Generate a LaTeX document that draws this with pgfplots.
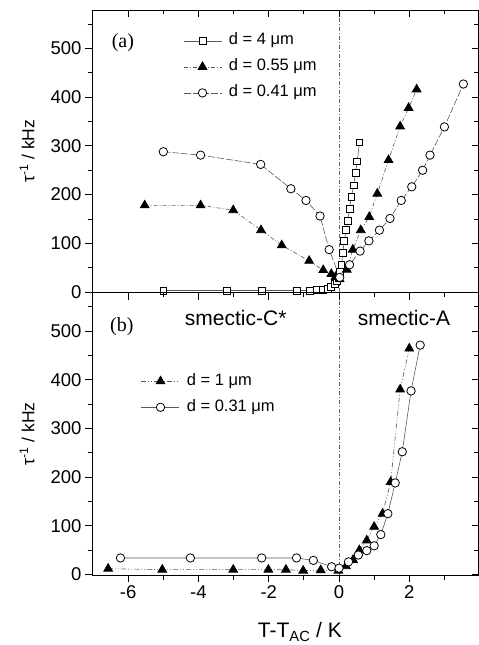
\documentclass[border=0pt]{standalone}
\usepackage{fontspec}
\setmainfont{Liberation Sans}
\newfontfamily\panelfont{Liberation Serif}
\usepackage{pgfplots}
\pgfplotsset{compat=1.18}

\pgfplotsset{
  panel/.style={
    scale only axis, width=386.5pt, height=282.5pt,
    xmin=-7.03, xmax=3.97, ymin=-1, ymax=579, clip=false,
    xtick={-6,-4,...,4}, minor xtick={-5,-3,-1,1,3},
    ytick={0,100,...,500}, minor ytick={50,150,...,550},
    major tick length=7pt, minor tick length=4.5pt,
    axis line style={line width=0.9pt},
    every tick/.style={black, line width=0.8pt},
    tick label style={font=\fontsize{18.5}{18.5}\selectfont},
    /pgf/number format/assume math mode=true,
  },
  outerticks/.style={panel, tick align=outside, xtick pos=left, ytick pos=left},
  innerticks/.style={panel, tick align=inside, xtick pos=right, ytick pos=right,
    xticklabels={}, yticklabels={}, axis line style={draw=none}},
  ser/.style={black!65, line width=0.6pt,
    mark options={solid, draw=black, line width=0.8pt}},
  sq/.style={ser, mark=square*, mark size=3.4pt, every mark/.append style={fill=white}},
  tri/.style={ser, mark=triangle*, mark size=5pt, every mark/.append style={fill=black}},
  circ/.style={ser, mark=*, mark size=4.2pt, every mark/.append style={fill=white}},
  legend image code/.code={
    \draw[mark repeat=2, mark phase=2, #1] plot coordinates {(0pt,0pt) (19pt,0pt) (38pt,0pt)};},
  leg/.style={legend cell align=left,
    legend style={draw=none, fill=none, font=\fontsize{16.5}{16.5}\selectfont,
      row sep=11pt, nodes={inner sep=0pt, text height=11.5pt, text depth=3.5pt},
      /tikz/every odd column/.style={column sep=7pt}}},
}
\tikzset{vline/.style={black!60, line width=0.5pt, dash pattern=on 4pt off 2pt on 1pt off 2pt}}

\begin{document}
\begin{tikzpicture}
\useasboundingbox (0pt,0pt) rectangle (479pt,645pt);

% ---------- (a) ----------
\begin{axis}[outerticks, at={(92pt,352.5pt)}, anchor=south west, xticklabels={},
  ylabel={τ\textsuperscript{-1} / kHz},
  ylabel style={at={(axis description cs:-0.168,0.5)}, anchor=center, font=\fontsize{17.5}{17.5}\selectfont},
  leg, legend style={at={(axis description cs:0.2277,0.925)}, anchor=north west}]
\draw[vline] (axis cs:0,-1) -- (axis cs:0,579);
\addplot[sq] coordinates {
 (-5,3) (-3.2,3) (-2.2,3) (-1.2,3) (-0.82,3) (-0.62,4) (-0.46,5) (-0.32,7) (-0.22,10)
 (-0.12,16) (-0.06,23) (-0.02,31) (0.02,41) (0.07,56) (0.11,81) (0.15,105) (0.2,127)
 (0.25,146) (0.3,171) (0.35,195) (0.42,219) (0.47,245) (0.52,268) (0.58,307)};
\addlegendentry{d = 4 μm}
\addplot[tri, dash pattern=on 4pt off 2pt on 1pt off 2pt] coordinates {
 (-5.53,178) (-3.94,178) (-3.01,168) (-2.22,127) (-1.63,96) (-0.85,64) (-0.45,45)
 (-0.22,37) (-0.1,31) (0.02,26) (0.22,46) (0.39,87) (0.62,127) (0.86,154) (1.09,202)
 (1.41,271) (1.74,340) (1.98,378) (2.21,416)};
\addlegendentry{d = 0.55 μm}
\addplot[circ, dash pattern=on 7pt off 2pt] coordinates {
 (-5,288) (-3.94,281) (-2.23,262) (-1.37,212) (-0.94,188) (-0.54,156) (-0.28,87)
 (0.02,30) (0.3,56) (0.6,84) (0.85,105) (1.15,127) (1.45,151) (1.77,188) (2.07,216)
 (2.38,250) (2.59,281) (3.0,339) (3.54,427)};
\addlegendentry{d = 0.41 μm}
\node[font=\panelfont\fontsize{20}{20}\selectfont] at (axis cs:-6.15,511) {(a)};
\end{axis}
\begin{axis}[innerticks, at={(92pt,352.5pt)}, anchor=south west]
\end{axis}

% ---------- (b) ----------
\begin{axis}[outerticks, at={(92pt,70pt)}, anchor=south west,
  xlabel={T-T\textsubscript{AC} / K},
  xlabel style={at={(axis description cs:0.538,-0.223)}, anchor=base, font=\fontsize{21}{21}\selectfont},
  ylabel={τ\textsuperscript{-1} / kHz},
  ylabel style={at={(axis description cs:-0.168,0.5)}, anchor=center, font=\fontsize{17.5}{17.5}\selectfont},
  leg, legend style={at={(axis description cs:0.119,0.72)}, anchor=north west}]
\draw[vline] (axis cs:0,-1) -- (axis cs:0,579);
\addplot[tri, dash pattern=on 5pt off 2pt on 1pt off 2pt on 1pt off 2pt] coordinates {
 (-6.57,12) (-5.03,10) (-3.01,10) (-2.01,10) (-1.51,10) (-1.02,8) (-0.52,9) (-0.02,8)
 (0.2,17) (0.4,30) (0.58,50) (0.79,70) (1.0,98) (1.24,125) (1.47,190) (1.74,380) (2.0,464)};
\addlegendentry{d = 1 μm}
\addplot[circ] coordinates {
 (-6.22,34) (-4.23,34) (-2.2,34) (-1.21,34) (-0.73,29) (-0.21,16) (0.0,13) (0.27,26)
 (0.55,40) (0.79,49) (1.0,59) (1.19,82) (1.39,125) (1.6,188) (1.8,252) (2.05,377) (2.31,471)};
\addlegendentry{d = 0.31 μm}
\node[font=\panelfont\fontsize{20}{20}\selectfont] at (axis cs:-6.18,508) {(b)};
\node[anchor=base, font=\fontsize{21}{21}\selectfont] at (axis cs:-2.94,511) {smectic-C*};
\node[anchor=base, font=\fontsize{21}{21}\selectfont] at (axis cs:1.85,511) {smectic-A};
\end{axis}
\begin{axis}[innerticks, at={(92pt,70pt)}, anchor=south west]
\end{axis}
\end{tikzpicture}
\end{document}
